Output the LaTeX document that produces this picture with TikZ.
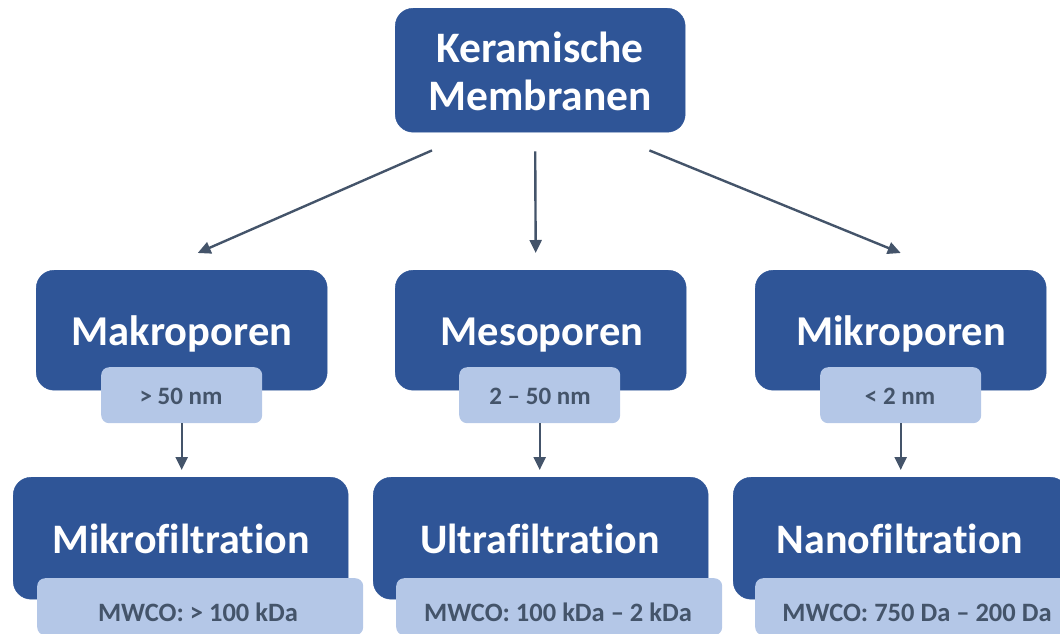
\documentclass[tikz,border=0pt]{standalone}
\usepackage{fontspec}
\setmainfont{Carlito}[Ligatures=CommonOff]
\usetikzlibrary{arrows.meta}
\definecolor{dkblue}{HTML}{2F5597}
\definecolor{ltblue}{HTML}{B4C7E7}
\definecolor{txtgray}{HTML}{44546A}
\tikzset{
  darkbox/.style={fill=dkblue, draw=dkblue, rounded corners=18pt, inner sep=0pt, anchor=north west},
  lightbox/.style={fill=ltblue, draw=none, rounded corners=8pt, inner sep=0pt, anchor=north west},
  toptext/.style={text=white, font=\fontsize{43.5}{48}\selectfont\bfseries, anchor=base, inner sep=0pt},
  midtext/.style={text=white, font=\fontsize{42.5}{44}\selectfont\bfseries, anchor=base, inner sep=0pt},
  bottext/.style={text=white, font=\fontsize{42}{44}\selectfont\bfseries, anchor=base, inner sep=0pt},
  subtext/.style={text=txtgray, font=\fontsize{25}{27}\selectfont\bfseries, anchor=base, inner sep=0pt},
  mwcotext/.style={text=txtgray, font=\fontsize{26.5}{28}\selectfont\bfseries, anchor=base, inner sep=0pt},
  conn/.style={draw=txtgray, line width=2.4pt, -{Triangle[length=13pt,width=12pt]}}
}
\begin{document}
\begin{tikzpicture}[x=1pt,y=-1pt]
\useasboundingbox (0,0) rectangle (1060,633);
\clip (0,0) rectangle (1060,633);
% top
\node[darkbox, minimum width=290pt, minimum height=124pt] (top) at (395,8) {};
\node[toptext] (topt1) at (540,62) {Keramische};
\node[toptext] (topt2) at (540,110) {Membranen};
% middle row
\node[darkbox, minimum width=291pt, minimum height=120pt] (makro) at (36,270) {};
\node[darkbox, minimum width=291pt, minimum height=120pt] (meso) at (395,270) {};
\node[darkbox, minimum width=291pt, minimum height=120pt] (mikro) at (755,270) {};
\node[midtext] (makrot) at (182,345) {Makroporen};
\node[midtext] (mesot) at (542,345) {Mesoporen};
\node[midtext] (mikrot) at (901,345) {Mikroporen};
\node[lightbox, minimum width=161pt, minimum height=56pt] (l1) at (101,367) {};
\node[lightbox, minimum width=161pt, minimum height=56pt] (l2) at (459,367) {};
\node[lightbox, minimum width=161pt, minimum height=56pt] (l3) at (820,367) {};
\node[subtext] (l1t) at (181,404) {> 50 nm};
\node[subtext] (l2t) at (540,404) {2 – 50 nm};
\node[subtext] (l3t) at (900,404) {< 2 nm};
% bottom row
\node[darkbox, minimum width=335pt, minimum height=122pt] (mf) at (13,477) {};
\node[darkbox, minimum width=335pt, minimum height=122pt] (uf) at (373,477) {};
\node[darkbox, minimum width=335pt, minimum height=122pt] (nf) at (733,477) {};
\node[bottext] (mft) at (181,553) {Mikrofiltration};
\node[bottext] (uft) at (540,553) {Ultrafiltration};
\node[bottext] (nft) at (900,553) {Nanofiltration};
\node[lightbox, minimum width=326pt, minimum height=57pt] (m1) at (37,578) {};
\node[lightbox, minimum width=326pt, minimum height=57pt] (m2) at (396,578) {};
\node[lightbox, minimum width=326pt, minimum height=57pt] (m3) at (755,578) {};
\node[mwcotext] (m1t) at (198,621) {MWCO: > 100 kDa};
\node[mwcotext] (m2t) at (558,621) {MWCO: 100 kDa – 2 kDa};
\node[mwcotext] (m3t) at (917,621) {MWCO: 750 Da – 200 Da};
% connectors
\draw[conn] ([shift={(37,18)}]top.south west) -- ([shift={(16,-17)}]makro.north);
\draw[conn] ([shift={(-5,19)}]top.south) -- ([shift={(-5,-17)}]meso.north);
\draw[conn] ([shift={(-36,18)}]top.south east) -- ([shift={(0,-17)}]mikro.north);
\draw[conn, shorten >=7pt] (l1.south) -- (l1.south |- mf.north);
\draw[conn, shorten >=7pt] (l2.south) -- (l2.south |- uf.north);
\draw[conn, shorten >=7pt] (l3.south) -- (l3.south |- nf.north);
\end{tikzpicture}
\end{document}
